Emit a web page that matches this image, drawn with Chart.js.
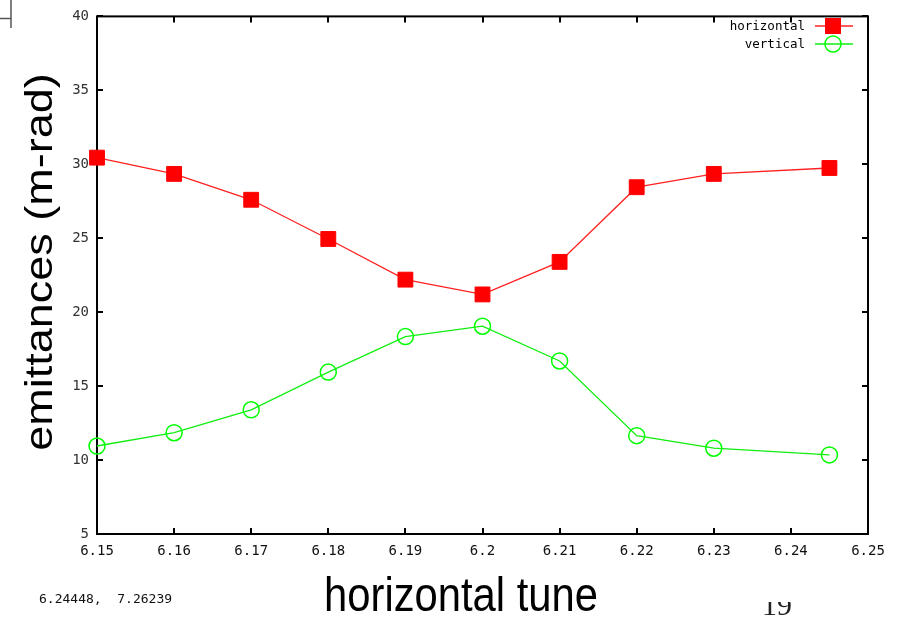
<!DOCTYPE html>
<html>
<head>
<meta charset="utf-8">
<title>emittances vs horizontal tune</title>
<script src="https://cdn.jsdelivr.net/npm/chart.js@4.4.0/dist/chart.umd.min.js"></script>
<style>
  html, body { margin: 0; padding: 0; background: #fff; }
  #wrap { width: 904px; height: 624px; position: relative; }
</style>
</head>
<body>
<div id="wrap"><canvas id="emitChart" width="904" height="624"></canvas></div>
<script>
// measured emittances against horizontal tune
const tunes = [6.15, 6.16, 6.17, 6.18, 6.19, 6.2, 6.21, 6.22, 6.23, 6.245];
const horizontalEmit = [30.45, 29.35, 27.6, 24.95, 22.2, 21.2, 23.4, 28.45, 29.35, 29.75];
const verticalEmit = [10.95, 11.85, 13.4, 15.95, 18.35, 19.05, 16.7, 11.65, 10.8, 10.35];
const seriesNames = ['horizontal', 'vertical'];
const xTickLabels = ['6.15', '6.16', '6.17', '6.18', '6.19', '6.2', '6.21', '6.22', '6.23', '6.24', '6.25'];
const yTickLabels = ['5', '10', '15', '20', '25', '30', '35', '40'];
const cursorText = '6.24448,  7.26239';

const MONO = '"DejaVu Sans Mono", "Liberation Mono", monospace';
const SANS = '"Liberation Sans", Arial, sans-serif';

function toPoints(xs, ys) {
    return xs.map((x, i) => ({ x: x, y: ys[i] }));
}

// gnuplot-style frame: full box plus inward ticks on all four sides
const framePlugin = {
    id: 'frame',
    beforeDatasetsDraw(chart) {
        const { ctx, chartArea: a, scales } = chart;
        ctx.save();
        ctx.strokeStyle = '#000';
        ctx.lineWidth = 2;
        ctx.strokeRect(a.left, a.top, a.right - a.left, a.bottom - a.top);

        const tl = 6;
        ctx.beginPath();
        scales.x.ticks.forEach(t => {
            const px = Math.round(scales.x.getPixelForValue(t.value));
            ctx.moveTo(px, a.bottom); ctx.lineTo(px, a.bottom - tl);
            ctx.moveTo(px, a.top); ctx.lineTo(px, a.top + tl);
        });
        scales.y.ticks.forEach(t => {
            const py = Math.round(scales.y.getPixelForValue(t.value));
            ctx.moveTo(a.left, py); ctx.lineTo(a.left + tl, py);
            ctx.moveTo(a.right, py); ctx.lineTo(a.right - tl, py);
        });
        ctx.stroke();
        ctx.restore();
    }
};

// legend in the top-right corner, titles and the loose slide text
const decorPlugin = {
    id: 'decor',
    afterDraw(chart) {
        const { ctx } = chart;
        ctx.save();

        // legend rows: label, short line sample, marker
        const rows = [
            { y: 26, ds: chart.data.datasets[0] },
            { y: 44, ds: chart.data.datasets[1] }
        ];
        ctx.font = '12.5px ' + MONO;
        ctx.textAlign = 'right';
        ctx.textBaseline = 'middle';
        rows.forEach(r => {
            ctx.fillStyle = '#000';
            ctx.fillText(r.ds.label, 805, r.y + 1);
            ctx.strokeStyle = r.ds.borderColor;
            ctx.lineWidth = 1.3;
            ctx.beginPath();
            ctx.moveTo(815, r.y); ctx.lineTo(853, r.y);
            ctx.stroke();
            if (r.ds.pointStyle === 'rect') {
                ctx.fillStyle = r.ds.pointBackgroundColor;
                ctx.fillRect(833 - 8, r.y - 8, 16, 16);
            } else {
                ctx.strokeStyle = r.ds.pointBorderColor;
                ctx.lineWidth = 1.5;
                ctx.beginPath();
                ctx.arc(833, r.y, 8, 0, Math.PI * 2);
                ctx.stroke();
            }
        });

        // axis titles, slightly narrowed like the slide they came from
        ctx.fillStyle = '#000';
        ctx.textAlign = 'center';
        ctx.textBaseline = 'alphabetic';

        ctx.save();
        ctx.translate(52, 262);
        ctx.rotate(-Math.PI / 2);
        ctx.scale(1, 0.85);
        ctx.font = '45px ' + SANS;
        ctx.fillText('emittances (m-rad)', 0, 0);
        ctx.restore();

        ctx.save();
        ctx.translate(461, 611);
        ctx.scale(0.87, 1);
        ctx.font = '48px ' + SANS;
        ctx.fillText('horizontal tune', 0, 0);
        ctx.restore();

        // mouse readout left by the plotting tool
        ctx.font = '13px ' + MONO;
        ctx.textAlign = 'left';
        ctx.textBaseline = 'middle';
        ctx.fillStyle = '#111';
        ctx.fillText(cursorText, 39, 600);

        // page number, half hidden
        ctx.save();
        ctx.beginPath();
        ctx.rect(740, 602, 80, 22);
        ctx.clip();
        ctx.font = '30px "Liberation Serif", serif';
        ctx.textAlign = 'left';
        ctx.textBaseline = 'alphabetic';
        ctx.fillStyle = '#222';
        ctx.fillText('19', 762, 615);
        ctx.restore();

        // corner of a neighbouring window
        ctx.strokeStyle = '#555';
        ctx.lineWidth = 1.5;
        ctx.beginPath();
        ctx.moveTo(11, 0); ctx.lineTo(11, 28);
        ctx.moveTo(0, 18.5); ctx.lineTo(11, 18.5);
        ctx.stroke();

        ctx.restore();
    }
};

const ctx = document.getElementById('emitChart').getContext('2d');
new Chart(ctx, {
    type: 'line',
    data: {
        datasets: [{
            label: seriesNames[0],
            data: toPoints(tunes, horizontalEmit),
            borderColor: '#ff2020',
            borderWidth: 1.3,
            pointStyle: 'rect',
            pointRadius: 10.5,
            pointBackgroundColor: '#ff0000',
            pointBorderColor: '#ff0000',
            pointBorderWidth: 1,
            clip: false
        }, {
            label: seriesNames[1],
            data: toPoints(tunes, verticalEmit),
            borderColor: '#10ee10',
            borderWidth: 1.3,
            pointStyle: 'circle',
            pointRadius: 8,
            pointBackgroundColor: 'rgba(0,0,0,0)',
            pointBorderColor: '#00ff00',
            pointBorderWidth: 1.5,
            clip: false
        }]
    },
    options: {
        responsive: false,
        animation: false,
        devicePixelRatio: 1,
        layout: { padding: { top: 13, right: 36, left: 0, bottom: 0 } },
        plugins: {
            legend: { display: false },
            tooltip: { enabled: false }
        },
        scales: {
            x: {
                type: 'linear',
                min: 6.15,
                max: 6.25,
                grid: { display: false, drawTicks: false },
                border: { display: false },
                ticks: {
                    stepSize: 0.01,
                    autoSkip: false,
                    maxRotation: 0,
                    padding: 9,
                    color: '#111',
                    font: { family: MONO, size: 14 },
                    callback: (v, i) => xTickLabels[i]
                },
                afterFit: s => { s.height = 90; }
            },
            y: {
                min: 5,
                max: 40,
                grid: { display: false, drawTicks: false },
                border: { display: false },
                ticks: {
                    stepSize: 5,
                    padding: 8,
                    color: '#333',
                    font: { family: MONO, size: 14 },
                    callback: (v, i) => yTickLabels[i]
                },
                afterFit: s => { s.width = 97; }
            }
        }
    },
    plugins: [framePlugin, decorPlugin]
});
</script>
</body>
</html>
